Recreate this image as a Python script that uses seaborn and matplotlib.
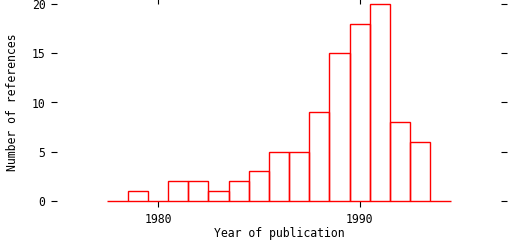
import matplotlib
matplotlib.use("Agg")
import matplotlib.pyplot as plt
import seaborn as sns
import pandas as pd

years = [1978, 1979, 1980, 1981, 1982, 1983, 1984, 1985, 1986, 1987,
         1988, 1989, 1990, 1991, 1992, 1993, 1994]
counts = [0, 1, 0, 2, 2, 1, 2, 3, 5, 5, 9, 15, 18, 20, 8, 6, 0]
x_ticks = [1980, 1990]
y_ticks = [0, 5, 10, 15, 20]

sns.set_style("white")
plt.rcParams['font.family'] = ['DejaVu Sans Mono']
plt.rcParams['text.color'] = 'black'
plt.rcParams['axes.labelcolor'] = 'black'
plt.rcParams['xtick.color'] = 'black'
plt.rcParams['ytick.color'] = 'black'

df = pd.DataFrame({"year": years, "count": counts})

fig = plt.figure(figsize=(5.12, 2.4), dpi=100)
ax = fig.add_axes([57/512, 1 - 201/240, (501-57)/512, (201-4)/240])

sns.histplot(data=df, x="year", weights="count", discrete=True, fill=False,
             element="bars", color="red", linewidth=1.0, ax=ax)
for p in ax.patches:
    p.set_clip_on(False)
    p.set_snap(True)

ax.set_xlim(1975, 1997)
ax.set_ylim(0, 20)
for s in ax.spines.values():
    s.set_visible(False)
ax.set_xticks(x_ticks)
ax.set_yticks(y_ticks)
fs = 8.3
ax.tick_params(axis="both", direction="out", length=4.3, width=0.8, color="black",
               labelcolor="black", labelsize=fs, pad=4, top=True, right=True,
               bottom=True, left=True, labeltop=False, labelright=False)
ax.set_xlabel("Year of publication", fontsize=fs, color="black")
ax.set_ylabel("Number of references", fontsize=fs, color="black")
ax.xaxis.set_label_coords(0.5, -0.132)
ax.yaxis.set_label_coords(-0.086, 0.5)
ax.grid(False)

fig.savefig("out.png", dpi=100)
